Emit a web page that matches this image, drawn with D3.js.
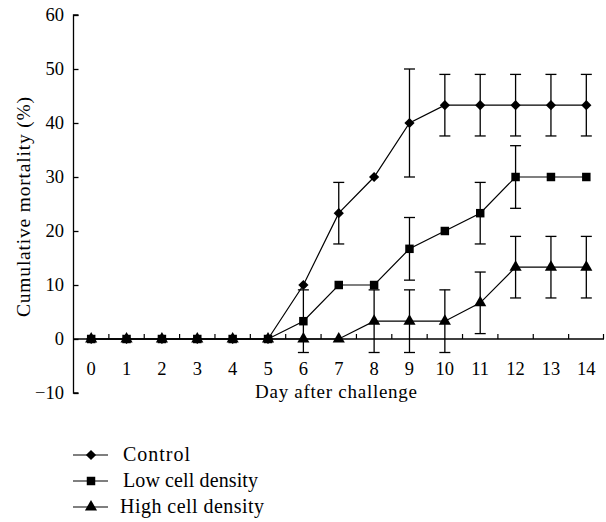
<!DOCTYPE html>
<html>
<head>
<meta charset="utf-8">
<script src="https://cdn.jsdelivr.net/npm/d3@7"></script>
<style>
  body { margin: 0; background: #fff; }
  text { font-family: "Liberation Serif", "DejaVu Serif", serif; fill: #000; }
</style>
</head>
<body>
<svg id="chart" width="606" height="522"></svg>
<script>
// Data
const days = [0, 1, 2, 3, 4, 5, 6, 7, 8, 9, 10, 11, 12, 13, 14];
const controlValues = [0, 0, 0, 0, 0, 0, 10, 23.3, 30, 40, 43.3, 43.3, 43.3, 43.3, 43.3];
const controlErrors = [0, 0, 0, 0, 0, 0, 0, 5.7, 0, 10, 5.7, 5.7, 5.7, 5.7, 5.7];
const lowValues = [0, 0, 0, 0, 0, 0, 3.3, 10, 10, 16.7, 20, 23.3, 30, 30, 30];
const lowErrors = [0, 0, 0, 0, 0, 0, 5.8, 0, 0, 5.8, 0, 5.7, 5.8, 0, 0];
const highValues = [0, 0, 0, 0, 0, 0, 0, 0, 3.3, 3.3, 3.3, 6.7, 13.3, 13.3, 13.3];
const highErrors = [0, 0, 0, 0, 0, 0, 0, 0, 5.8, 5.8, 5.8, 5.7, 5.7, 5.7, 5.7];
const yTicks = [-10, 0, 10, 20, 30, 40, 50, 60];
const seriesNames = ['Control', 'Low cell density', 'High cell density'];

const series = [
    { name: seriesNames[0], values: controlValues, errors: controlErrors, shape: 'diamond', textLen: 67 },
    { name: seriesNames[1], values: lowValues, errors: lowErrors, shape: 'square', textLen: 135 },
    { name: seriesNames[2], values: highValues, errors: highErrors, shape: 'triangle', textLen: 144 }
];

const svg = d3.select('#chart');

const x = d3.scaleBand().domain(days).range([73.5, 604]);
const xc = d => x(d) + x.bandwidth() / 2;
const y = d3.scaleLinear().domain([-10, 60]).range([393, 15]);

// Y axis, ticks pointing inward
const yAxis = svg.append('g')
    .attr('transform', `translate(${x.range()[0]},0)`)
    .call(d3.axisRight(y).tickValues(yTicks).tickSize(5).tickFormat(''));
yAxis.select('.domain').attr('d', `M5,${y(60)}H0V${y(-10)}H5`);
yAxis.selectAll('line, path').attr('stroke', '#000').attr('stroke-width', 1.3);

svg.append('g').selectAll('text')
    .data(yTicks)
    .join('text')
    .attr('x', 64)
    .attr('y', d => y(d))
    .attr('dy', '0.34em')
    .attr('text-anchor', 'end')
    .attr('font-size', 18.5)
    .text(d => d < 0 ? '\u2212' + Math.abs(d) : d);

// X axis at zero, ticks at band boundaries pointing up
const xAxis = svg.append('g').attr('transform', `translate(0,${y(0)})`);
xAxis.append('line')
    .attr('x1', x.range()[0]).attr('x2', x.range()[1])
    .attr('stroke', '#000').attr('stroke-width', 1.3);
xAxis.selectAll('.tick')
    .data(days.slice(1).concat(['end']))
    .join('line')
    .attr('x1', d => d === 'end' ? x.range()[1] - 0.5 : x(d))
    .attr('x2', d => d === 'end' ? x.range()[1] - 0.5 : x(d))
    .attr('y1', 0).attr('y2', -5)
    .attr('stroke', '#000').attr('stroke-width', 1.2);
xAxis.selectAll('text')
    .data(days)
    .join('text')
    .attr('x', d => xc(d))
    .attr('y', 36)
    .attr('text-anchor', 'middle')
    .attr('font-size', 18.5)
    .text(d => d);

svg.append('text')
    .attr('x', 336).attr('y', 398)
    .attr('text-anchor', 'middle')
    .attr('font-size', 19)
    .attr('textLength', 162)
    .text('Day after challenge');

svg.append('text')
    .attr('transform', 'translate(30,207) rotate(-90)')
    .attr('text-anchor', 'middle')
    .attr('font-size', 19.5)
    .attr('textLength', 220)
    .text('Cumulative mortality (%)');

// Marker shapes
const symbolFor = {
    diamond: d3.symbol().type(d3.symbolSquare).size(52),
    square: d3.symbol().type(d3.symbolSquare).size(72),
    triangle: d3.symbol().type(d3.symbolTriangle).size(64)
};

function drawMarker(g, shape, cx, cy) {
    g.append('path')
        .attr('d', symbolFor[shape]())
        .attr('transform', `translate(${cx},${cy}) rotate(${shape === 'diamond' ? 45 : 0})`)
        .attr('fill', '#000');
}

const line = d3.line().x((d, i) => xc(days[i])).y(d => y(d));
const plot = svg.append('g');

series.forEach(s => {
    plot.append('path')
        .datum(s.values)
        .attr('d', line)
        .attr('fill', 'none')
        .attr('stroke', '#000')
        .attr('stroke-width', 1.2);
});

// Error bars
series.forEach(s => {
    s.errors.forEach((e, i) => {
        if (!e) return;
        const cx = xc(days[i]);
        const top = y(s.values[i] + e);
        const bot = y(s.values[i] - e);
        const g = plot.append('g').attr('stroke', '#000').attr('stroke-width', 1.3);
        g.append('line').attr('x1', cx).attr('x2', cx).attr('y1', top).attr('y2', bot);
        g.append('line').attr('x1', cx - 5.5).attr('x2', cx + 5.5).attr('y1', top).attr('y2', top);
        g.append('line').attr('x1', cx - 5.5).attr('x2', cx + 5.5).attr('y1', bot).attr('y2', bot);
    });
});

series.forEach(s => {
    s.values.forEach((v, i) => drawMarker(plot, s.shape, xc(days[i]), y(v)));
});

// Legend
const legend = svg.append('g');
const legendY = [455, 481, 507];
series.forEach((s, i) => {
    legend.append('line')
        .attr('x1', 73).attr('x2', 108)
        .attr('y1', legendY[i]).attr('y2', legendY[i])
        .attr('stroke', '#000').attr('stroke-width', 1.2);
    drawMarker(legend, s.shape, 91, legendY[i]);
    legend.append('text')
        .attr('x', i === 2 ? 120 : 123).attr('y', legendY[i])
        .attr('dy', '0.32em')
        .attr('font-size', 20)
        .attr('textLength', s.textLen)
        .text(s.name);
});
</script>
</body>
</html>
